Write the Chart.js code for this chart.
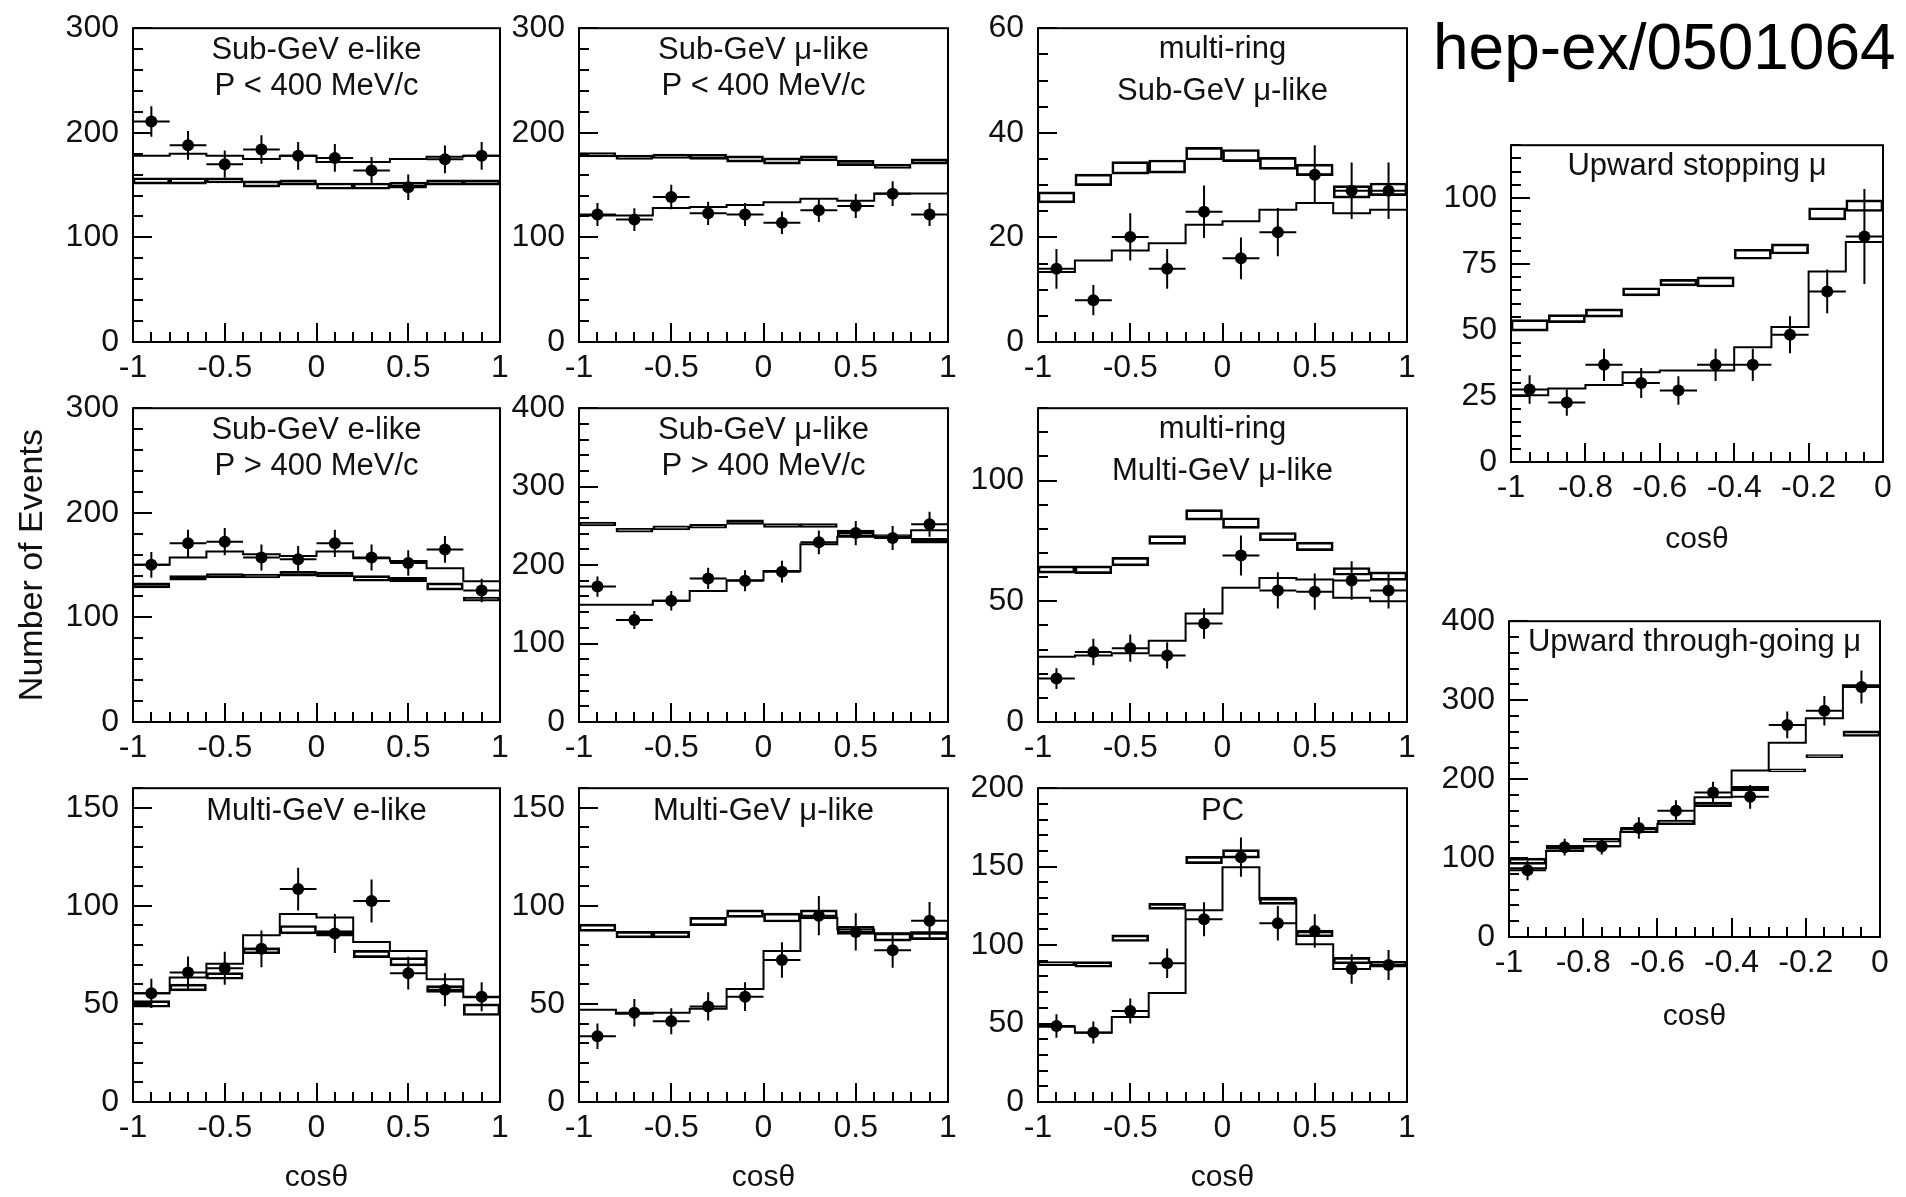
<!DOCTYPE html>
<html>
<head>
<meta charset="utf-8">
<script src="https://cdn.jsdelivr.net/npm/chart.js@4.4.1/dist/chart.umd.min.js"></script>
<style>
html,body{margin:0;padding:0;background:#fff;width:1906px;height:1197px;overflow:hidden;position:relative;}
#ref{position:absolute;left:1433px;top:15px;font-family:'Liberation Sans',Arial,Helvetica,sans-serif;font-size:64px;line-height:64px;color:#000;white-space:nowrap;}
</style>
</head>
<body>
<div id="ref">hep-ex/0501064</div>
<script>
// ---------- categories (bin centres) and tick labels ----------
const cosCenters   = [-0.9,-0.7,-0.5,-0.3,-0.1,0.1,0.3,0.5,0.7,0.9];
const cosCentersUp = [-0.95,-0.85,-0.75,-0.65,-0.55,-0.45,-0.35,-0.25,-0.15,-0.05];
const xTickLabels   = [-1,-0.5,0,0.5,1];
const xTickLabelsUp = [-1,-0.8,-0.6,-0.4,-0.2,0];
const yTicks300 = [0,100,200,300];
const yTicks400 = [0,100,200,300,400];
const yTicks60  = [0,20,40,60];
const yTicks130 = [0,50,100];
const yTicks160 = [0,50,100,150];
const yTicks200 = [0,50,100,150,200];
const yTicks120 = [0,25,50,75,100];

// ---------- Sub-GeV e-like P<400 ----------
const sgeLowData  = [210.8,188,170,184,178,176,164,148,174.6,178];
const sgeLowErr   = [14.5,13.7,13,13.6,13.3,13.3,12.8,12.2,13.2,13.3];
const sgeLowFit   = [178,180,178,175,178,172,172,175,177,178];
const sgeLowBoxLo = [151,151,152,148,150,146,146,148,150,150];
const sgeLowBoxHi = [157,157,157,154,155,152,152,153,155,155];
// ---------- Sub-GeV mu-like P<400 ----------
const sgmLowData  = [122,117,138.6,123,122,114,126,130,141.8,122];
const sgmLowErr   = [11,10.8,11.8,11.1,11,10.7,11.2,11.4,11.9,11];
const sgmLowFit   = [121,121,128,129,131,133.6,137,135,142,142];
const sgmLowBoxLo = [177,174.6,175.5,174.6,172,170,173,168.6,166,170];
const sgmLowBoxHi = [181,178.6,179.6,179.5,178,176,178,173.6,170,175];
// ---------- multi-ring Sub-GeV mu-like ----------
const mrsData  = [14,8,20.1,14,24.9,16,21,32,28.9,28.9];
const mrsErr   = [3.8,2.9,4.5,3.8,5,4,4.6,5.6,5.4,5.4];
const mrsFit   = [13.4,15.6,17.5,18.9,22.4,23.1,25.3,26.6,24.6,25.3];
const mrsBoxLo = [26.6,29.9,32.1,32.3,34.8,34.5,33,31.8,27.5,28];
const mrsBoxHi = [28.7,32.1,34.5,34.8,37.2,36.8,35.3,34,29.9,30.4];
// ---------- Sub-GeV e-like P>400 ----------
const sgeHighData  = [150.3,170.8,172.4,157.3,155.7,170.8,157.3,152,165,125.7];
const sgeHighErr   = [12.3,13,13.1,12.5,12.5,13,12.5,12.3,12.8,11.2];
const sgeHighFit   = [150.3,157.3,163,160.4,158.8,163,156.6,154,147,134.5];
const sgeHighBoxLo = [128.3,135.5,137.7,137.7,139.3,138.7,134.6,134,126,115.6];
const sgeHighBoxHi = [133,140,141.8,141.5,144,143.4,140,138.4,133,119.5];
// ---------- Sub-GeV mu-like P>400 ----------
const sgmHighData  = [172.6,130,154.5,183,180,191.6,229,240.8,234.5,252];
const sgmHighErr   = [13,11.4,12.4,13.5,13.4,13.8,15.1,15.5,15.3,15.9];
const sgmHighFit   = [149.5,149.5,154.5,167,180.6,192.4,226.5,236,236,244.5];
const sgmHighBoxLo = [250,242,245,247,252,248,248,236,235,228];
const sgmHighBoxHi = [254.7,247,250,252,257.7,253,253,244.5,239,234];
// ---------- multi-ring Multi-GeV mu-like ----------
const mrmData  = [18,29,30.6,27.6,40.8,69,54.5,54,58.6,54.5];
const mrmErr   = [4.3,5.5,5.6,5.4,6.3,8.3,7.5,7.5,8,7.5];
const mrmFit   = [27,27.5,28.5,33.7,45,55.6,59.7,59,51.5,50];
const mrmBoxLo = [61.7,61.5,64.7,73.6,83.6,80.2,75.1,71,60.8,58.7];
const mrmBoxHi = [64.7,64.7,68.2,77.2,88,84.6,78.5,74.5,64,62.2];
// ---------- Multi-GeV e-like ----------
const mgeData  = [55.4,66,68.2,78.1,108.6,85.9,102.5,65.7,57.2,53.7];
const mgeErr   = [7.5,8.2,8.4,9.4,10.9,9.9,11,8.3,8.4,7.4];
const mgeFit   = [55.4,63.5,70.5,85,95.8,94.1,81.6,77,62.6,53.4];
const mgeBoxLo = [48.3,56.7,62.6,75.6,85.7,84.5,73.6,69.4,55.9,44.1];
const mgeBoxHi = [51.7,60.1,66,78.6,90,87.4,77.3,73.6,59.3,50];
// ---------- Multi-GeV mu-like ----------
const mgmData  = [33.5,45.5,41.2,48.7,53.7,72.4,95,86.7,77.4,92.4];
const mgmErr   = [6.5,7,6.6,7.2,7.3,9,10,9.5,8.9,9.6];
const mgmFit   = [47,45,45.5,47.5,57.6,77,94,88,86,86.5];
const mgmBoxLo = [87,83.7,83.7,89.9,94.1,91.8,93.4,85.4,82,82.8];
const mgmBoxHi = [90.7,87,87,94.1,98,96.3,98,89.6,86.2,86.5];
// ---------- PC ----------
const pcData  = [48.5,44.3,58,88.4,116.5,156,114,109,84.8,87.3];
const pcErr   = [7.5,7,8,9.4,10.8,12.5,11,10.7,9.4,9.5];
const pcFit   = [47.9,44.1,54.2,69.4,122.2,149.6,129.1,100.6,84.8,86.9];
const pcBoxLo = [86.9,85.9,102.3,122.8,151.9,155.5,126,105.3,88,85.9];
const pcBoxHi = [89.5,89.5,106.5,126.6,156.5,160.8,130.6,109,92.2,89.7];
// ---------- Upward stopping mu ----------
const upStopData  = [27.5,22.5,36.8,29.9,27.1,36.8,36.8,48.2,64.6,85.4];
const upStopErr   = [5.4,5,6.1,5.7,5.4,6.1,6.1,7,8.3,18];
const upStopFit   = [25.3,27.8,29.2,34,34.7,34.7,43.5,51.1,72.2,83.3];
const upStopBoxLo = [49.6,52.8,54.9,62.9,66.7,66.3,76.8,78.8,91.7,94.9];
const upStopBoxHi = [53.9,55.8,58,66,69.2,70.1,80.6,82.6,96.3,99.3];
// ---------- Upward through-going mu ----------
const upThruData  = [84.5,113.8,115,138,160,183,177.6,268.6,286.6,316.7];
const upThruErr   = [12.5,10.5,10.5,13.6,13.2,13.6,15,17,18.8,21];
const upThruFit   = [87,109,115,133,143,177,211,246,277,319];
const upThruBoxLo = [92,111,120,133,143,165,185,209,227,254];
const upThruBoxHi = [100,116,125,137,148,171,191,213,231,261];

// ---------- layout / style ----------
const FONT = "'Liberation Sans', Arial, Helvetica, sans-serif";
const INK = '#000';
const TXT = '#111';

const panels = [
  {title:['Sub-GeV e-like','P < 400 MeV/c'], ty:[31,67], area:[133,25,500,342], ymax:300, yTicks:yTicks300, yMinor:20,
   centers:cosCenters, xTicks:xTickLabels, xmin:-1, xmax:1, xMinor:0.1, hw:0.1,
   data:sgeLowData, err:sgeLowErr, fit:sgeLowFit, lo:sgeLowBoxLo, hi:sgeLowBoxHi},
  {title:['Sub-GeV μ-like','P < 400 MeV/c'], ty:[31,67], area:[579,25,948,342], ymax:300, yTicks:yTicks300, yMinor:20,
   centers:cosCenters, xTicks:xTickLabels, xmin:-1, xmax:1, xMinor:0.1, hw:0.1,
   data:sgmLowData, err:sgmLowErr, fit:sgmLowFit, lo:sgmLowBoxLo, hi:sgmLowBoxHi},
  {title:['multi-ring','Sub-GeV μ-like'], ty:[30,72], area:[1038,25,1407,342], ymax:60, yTicks:yTicks60, yMinor:5,
   centers:cosCenters, xTicks:xTickLabels, xmin:-1, xmax:1, xMinor:0.1, hw:0.1,
   data:mrsData, err:mrsErr, fit:mrsFit, lo:mrsBoxLo, hi:mrsBoxHi},
  {title:['Sub-GeV e-like','P > 400 MeV/c'], ty:[31,67], area:[133,405,500,722], ymax:300, yTicks:yTicks300, yMinor:20,
   centers:cosCenters, xTicks:xTickLabels, xmin:-1, xmax:1, xMinor:0.1, hw:0.1, L:133, yTitle:'Number of Events',
   data:sgeHighData, err:sgeHighErr, fit:sgeHighFit, lo:sgeHighBoxLo, hi:sgeHighBoxHi},
  {title:['Sub-GeV μ-like','P > 400 MeV/c'], ty:[31,67], area:[579,405,948,722], ymax:400, yTicks:yTicks400, yMinor:20,
   centers:cosCenters, xTicks:xTickLabels, xmin:-1, xmax:1, xMinor:0.1, hw:0.1,
   data:sgmHighData, err:sgmHighErr, fit:sgmHighFit, lo:sgmHighBoxLo, hi:sgmHighBoxHi},
  {title:['multi-ring','Multi-GeV μ-like'], ty:[30,72], area:[1038,405,1407,722], ymax:130, yTicks:yTicks130, yMinor:10,
   centers:cosCenters, xTicks:xTickLabels, xmin:-1, xmax:1, xMinor:0.1, hw:0.1,
   data:mrmData, err:mrmErr, fit:mrmFit, lo:mrmBoxLo, hi:mrmBoxHi},
  {title:['Multi-GeV e-like'], ty:[32], area:[133,785,500,1102], ymax:160, yTicks:yTicks160, yMinor:10,
   centers:cosCenters, xTicks:xTickLabels, xmin:-1, xmax:1, xMinor:0.1, hw:0.1, B:95, xTitle:true, xTitlePad:1,
   data:mgeData, err:mgeErr, fit:mgeFit, lo:mgeBoxLo, hi:mgeBoxHi},
  {title:['Multi-GeV μ-like'], ty:[32], area:[579,785,948,1102], ymax:160, yTicks:yTicks160, yMinor:10,
   centers:cosCenters, xTicks:xTickLabels, xmin:-1, xmax:1, xMinor:0.1, hw:0.1, B:95, xTitle:true, xTitlePad:1,
   data:mgmData, err:mgmErr, fit:mgmFit, lo:mgmBoxLo, hi:mgmBoxHi},
  {title:['PC'], ty:[32], area:[1038,785,1407,1102], ymax:200, yTicks:yTicks200, yMinor:10,
   centers:cosCenters, xTicks:xTickLabels, xmin:-1, xmax:1, xMinor:0.1, hw:0.1, B:95, xTitle:true, xTitlePad:1,
   data:pcData, err:pcErr, fit:pcFit, lo:pcBoxLo, hi:pcBoxHi},
  {title:['Upward stopping μ'], ty:[30], area:[1511,142,1883,462], ymax:120, yTicks:yTicks120, yMinor:5,
   centers:cosCentersUp, xTicks:xTickLabelsUp, xmin:-1, xmax:0, xMinor:0.05, hw:0.05, B:100, R:20, xTitle:true, xTitlePad:4,
   data:upStopData, err:upStopErr, fit:upStopFit, lo:upStopBoxLo, hi:upStopBoxHi},
  {title:['Upward through-going μ'], ty:[30], area:[1509,618,1880,937], ymax:400, yTicks:yTicks400, yMinor:20,
   centers:cosCentersUp, xTicks:xTickLabelsUp, xmin:-1, xmax:0, xMinor:0.05, hw:0.05, B:100, R:20, xTitle:true, xTitlePad:2,
   data:upThruData, err:upThruErr, fit:upThruFit, lo:upThruBoxLo, hi:upThruBoxHi}
];

function framePlugin(P) {
  return {
    id: 'frame',
    afterDatasetsDraw(chart) {
      const {ctx, chartArea: a, scales: {x, y}} = chart;
      ctx.save();
      ctx.strokeStyle = INK;
      ctx.lineWidth = 2;
      ctx.beginPath();
      // y ticks (inside)
      const ny = Math.round(P.ymax / P.yMinor);
      for (let i = 0; i <= ny; i++) {
        const v = i * P.yMinor;
        const major = P.yTicks.some(t => Math.abs(t - v) < 1e-6);
        const py = Math.round(y.getPixelForValue(v));
        ctx.moveTo(a.left, py);
        ctx.lineTo(a.left + (major ? 19 : 10), py);
      }
      // x ticks (inside)
      const nx = Math.round((P.xmax - P.xmin) / P.xMinor);
      for (let i = 0; i <= nx; i++) {
        const v = P.xmin + i * P.xMinor;
        const major = P.xTicks.some(t => Math.abs(t - v) < 1e-6);
        const px = Math.round(x.getPixelForValue(v));
        ctx.moveTo(px, a.bottom);
        ctx.lineTo(px, a.bottom - (major ? 19 : 10));
      }
      ctx.stroke();
      ctx.strokeRect(a.left, a.top, a.right - a.left, a.bottom - a.top);
      // panel title inside the frame
      ctx.fillStyle = TXT;
      ctx.font = '31px ' + FONT;
      ctx.textAlign = 'center';
      ctx.textBaseline = 'alphabetic';
      const cx = (a.left + a.right) / 2;
      P.title.forEach((t, i) => ctx.fillText(t, cx, a.top + P.ty[i]));
      ctx.restore();
    }
  };
}

function makeChart(P) {
  const L = P.L || 100, T = 30, R = P.R || 40, B = P.B || 60;
  const [x0, y0, x1, y1] = P.area;
  const w = L + (x1 - x0) + R, h = T + (y1 - y0) + B;
  const cv = document.createElement('canvas');
  cv.width = w; cv.height = h;
  cv.style.cssText = `position:absolute;left:${x0 - L}px;top:${y0 - T}px;width:${w}px;height:${h}px;`;
  document.body.appendChild(cv);

  const hw = P.hw;
  const errSeg = [];
  P.centers.forEach((c, i) => {
    const v = P.data[i], e = P.err[i];
    errSeg.push({x: c - hw, y: v}, {x: c + hw, y: v}, {x: c, y: null},
                {x: c, y: v - e}, {x: c, y: v + e}, {x: c, y: null});
  });
  const fitPts = [];
  P.centers.forEach((c, i) => { fitPts.push({x: c - hw, y: P.fit[i]}, {x: c + hw, y: P.fit[i]}); });

  new Chart(cv, {
    type: 'bar',
    data: {
      datasets: [
        {type: 'line', label: 'data', data: P.centers.map((c, i) => ({x: c, y: P.data[i]})),
         showLine: false, pointRadius: 6, pointBackgroundColor: INK, pointBorderColor: INK, pointBorderWidth: 0, order: 0},
        {type: 'line', label: 'errors', data: errSeg, spanGaps: false, borderColor: INK, borderWidth: 2,
         pointRadius: 0, fill: false, order: 1},
        {type: 'line', label: 'best fit', data: fitPts, borderColor: INK, borderWidth: 2,
         pointRadius: 0, fill: false, order: 2},
        {type: 'bar', label: 'no oscillation', data: P.centers.map((c, i) => ({x: c, y: [P.lo[i], P.hi[i]]})),
         backgroundColor: 'rgba(255,255,255,0)', borderColor: INK, borderWidth: 2, borderSkipped: false,
         barPercentage: 1, categoryPercentage: 1, order: 3}
      ]
    },
    options: {
      responsive: false, animation: false, devicePixelRatio: 1, events: [],
      layout: {padding: {left: 0, top: T, right: R, bottom: 0}},
      plugins: {legend: {display: false}, tooltip: {enabled: false}},
      scales: {
        x: {
          type: 'linear', min: P.xmin, max: P.xmax, bounds: 'data', offset: false,
          afterBuildTicks: s => { s.ticks = P.xTicks.map(v => ({value: v})); },
          afterFit: s => { s.height = B; },
          grid: {display: false, drawTicks: false, offset: false}, border: {display: false},
          ticks: {font: {family: FONT, size: 32}, color: TXT, padding: 7, maxRotation: 0, autoSkip: false,
                  callback: v => String(v)},
          title: P.xTitle ? {display: true, text: 'cosθ', font: {family: FONT, size: 30}, color: TXT,
                             padding: {top: 0, bottom: P.xTitlePad}} : {display: false}
        },
        y: {
          type: 'linear', min: 0, max: P.ymax, bounds: 'data',
          afterBuildTicks: s => { s.ticks = P.yTicks.map(v => ({value: v})); },
          afterFit: s => { s.width = L; },
          grid: {display: false, drawTicks: false}, border: {display: false},
          ticks: {font: {family: FONT, size: 32}, color: TXT, padding: 14, callback: v => String(v)},
          title: P.yTitle ? {display: true, text: P.yTitle, font: {family: FONT, size: 34}, color: TXT,
                             padding: {top: 12, bottom: 0}} : {display: false}
        }
      }
    },
    plugins: [framePlugin(P)]
  });
}

panels.forEach(makeChart);
</script>
</body>
</html>
